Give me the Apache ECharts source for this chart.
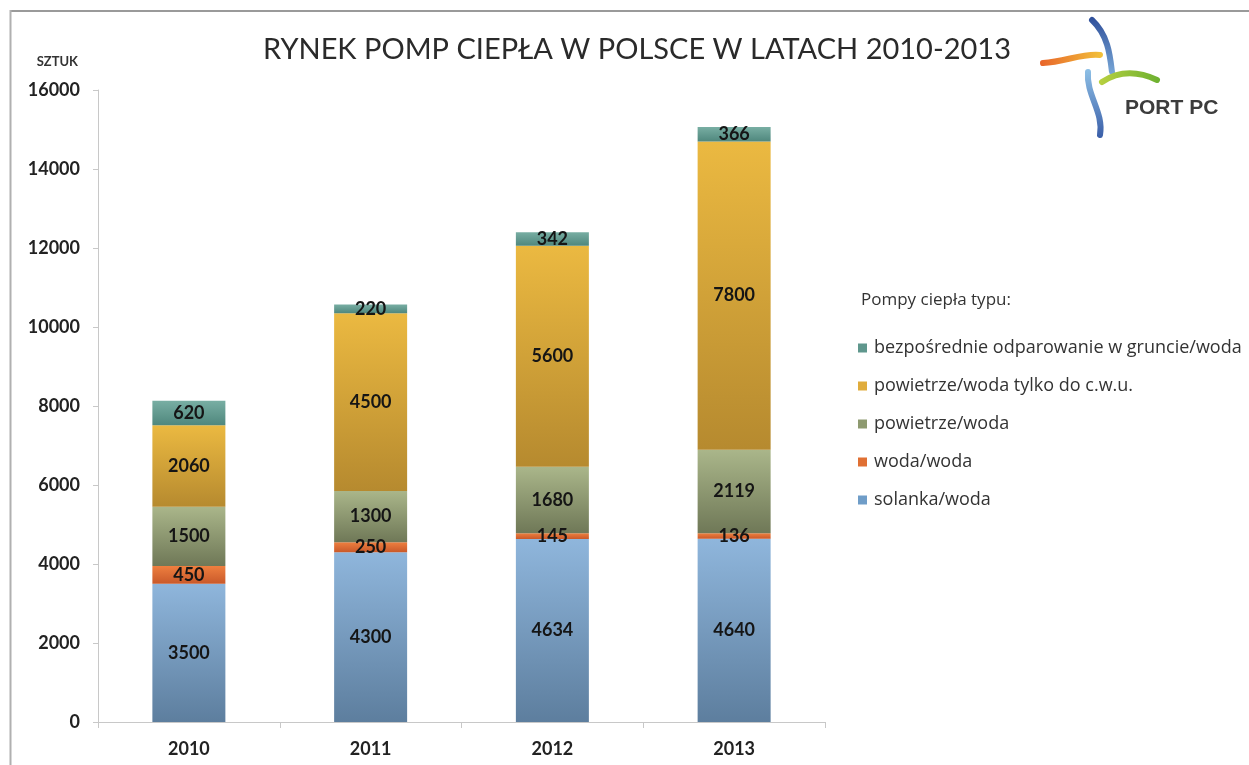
<!DOCTYPE html>
<html>
<head>
<meta charset="utf-8">
<script src="https://cdn.jsdelivr.net/npm/echarts@6/dist/echarts.min.js"></script>
<style>html,body{margin:0;padding:0;background:#fff}#c{width:1249px;height:765px}</style>
</head>
<body>
<div id="c"></div>
<script>
const years = ['2010', '2011', '2012', '2013'];
const solanka = [3500, 4300, 4634, 4640];
const wodaWoda = [450, 250, 145, 136];
const powietrze = [1500, 1300, 1680, 2119];
const powietrzeCwu = [2060, 4500, 5600, 7800];
const bezposrednie = [620, 220, 342, 366];
const yTicks = [0, 2000, 4000, 6000, 8000, 10000, 12000, 14000, 16000];

const names = ['solanka/woda', 'woda/woda', 'powietrze/woda', 'powietrze/woda tylko do c.w.u.', 'bezpośrednie odparowanie w gruncie/woda'];
const values = [solanka, wodaWoda, powietrze, powietrzeCwu, bezposrednie];
const colors = [
  ['#8fb6dc', '#5d7e9e'],
  ['#ee7f3f', '#c9592a'],
  ['#aab68a', '#6f7857'],
  ['#ebb941', '#b68a2f'],
  ['#78aea3', '#4f877d']
];
const legendColors = ['#6f9dc8', '#e07033', '#8e9a70', '#e0ac3c', '#5f978d'];

const FONT = 'Lato';
const chart = echarts.init(document.getElementById('c'), null, {renderer: 'canvas'});

const series = names.map((n, i) => ({
  name: n,
  type: 'bar',
  stack: 'total',
  barWidth: 73,
  data: values[i],
  itemStyle: {
    color: new echarts.graphic.LinearGradient(0, 0, 0, 1, [
      {offset: 0, color: colors[i][0]},
      {offset: 1, color: colors[i][1]}
    ])
  },
  label: {
    show: true,
    position: 'inside',
    color: '#151515',
    fontFamily: FONT,
    fontWeight: 'bold',
    fontSize: 18,
    formatter: p => String(p.value)
  },
  emphasis: {disabled: true}
}));

const option = {
  animation: false,
  backgroundColor: '#ffffff',
  title: {
    text: 'RYNEK POMP CIEPŁA W POLSCE W LATACH 2010-2013',
    left: 632,
    textAlign: 'center',
    top: 30,
    textStyle: {fontFamily: FONT, fontWeight: 'normal', fontSize: 29, color: '#2a2a2a'}
  },
  legend: {
    orient: 'vertical',
    left: 853,
    top: 334,
    itemWidth: 9,
    itemHeight: 9,
    itemGap: 20,
    icon: 'rect',
    data: names.slice().reverse().map((n) => ({name: n, itemStyle: {color: legendColors[names.indexOf(n)]}})),
    textStyle: {fontFamily: 'Open Sans', fontSize: 18, color: '#333', padding: [0, 0, 0, 2]}
  },
  grid: {left: 98, right: 424, top: 90, bottom: 43},
  xAxis: {
    type: 'category',
    data: years,
    axisLine: {lineStyle: {color: '#c8c8c8', width: 1}},
    axisTick: {show: true, length: 6, lineStyle: {color: '#c8c8c8'}},
    axisLabel: {margin: 18, fontFamily: FONT, fontWeight: 'bold', fontSize: 18, color: '#222'}
  },
  yAxis: {
    type: 'value',
    min: 0,
    max: 16000,
    interval: 2000,
    name: 'SZTUK',
    nameLocation: 'end',
    nameGap: 22,
    nameTextStyle: {fontFamily: FONT, fontWeight: 'bold', fontSize: 13, color: '#333', align: 'right', padding: [0, 20, 0, 0]},
    axisLine: {show: true, lineStyle: {color: '#c8c8c8', width: 1}},
    axisTick: {show: true, length: 5, lineStyle: {color: '#c8c8c8'}},
    splitLine: {show: false},
    axisLabel: {margin: 18, fontFamily: FONT, fontWeight: 'bold', fontSize: 18, color: '#222',
      formatter: v => yTicks.indexOf(v) >= 0 ? String(v) : ''}
  },
  series: series,
  graphic: [
    {type: 'line', shape: {x1: 10, y1: 11, x2: 1249, y2: 11}, style: {stroke: '#9a9a9a', lineWidth: 2}, silent: true},
    {type: 'line', shape: {x1: 10.5, y1: 10, x2: 10.5, y2: 765}, style: {stroke: '#b0b0b0', lineWidth: 2}, silent: true},
    {type: 'text', left: 861, top: 292, style: {text: 'Pompy ciepła typu:', fontFamily: 'Open Sans', fontSize: 17, fill: '#333'}},
    // logo
    {type: 'bezierCurve', shape: {x1: 1092, y1: 20, x2: 1112, y2: 72, cpx1: 1108, cpy1: 35, cpx2: 1110, cpy2: 55},
      style: {stroke: new echarts.graphic.LinearGradient(0, 0, 0, 1, [{offset: 0, color: '#2f4f9a'}, {offset: 1, color: '#7aa9d8'}]), lineWidth: 6, lineCap: 'round'}, silent: true},
    {type: 'bezierCurve', shape: {x1: 1088, y1: 72, x2: 1100, y2: 135, cpx1: 1086, cpy1: 95, cpx2: 1104, cpy2: 112},
      style: {stroke: new echarts.graphic.LinearGradient(0, 0, 0, 1, [{offset: 0, color: '#8ec0e6'}, {offset: 1, color: '#3a5ea8'}]), lineWidth: 6, lineCap: 'round'}, silent: true},
    {type: 'bezierCurve', shape: {x1: 1043, y1: 63, x2: 1100, y2: 55, cpx1: 1065, cpy1: 62, cpx2: 1082, cpy2: 53},
      style: {stroke: new echarts.graphic.LinearGradient(0, 0, 1, 0, [{offset: 0, color: '#e8642a'}, {offset: 1, color: '#f2c23a'}]), lineWidth: 6, lineCap: 'round'}, silent: true},
    {type: 'bezierCurve', shape: {x1: 1102, y1: 82, x2: 1157, y2: 80, cpx1: 1120, cpy1: 70, cpx2: 1140, cpy2: 72},
      style: {stroke: new echarts.graphic.LinearGradient(0, 0, 1, 0, [{offset: 0, color: '#b8d040'}, {offset: 1, color: '#6cb030'}]), lineWidth: 6, lineCap: 'round'}, silent: true},
    {type: 'text', left: 1125, top: 98, style: {text: 'PORT PC', fontFamily: 'Liberation Sans', fontWeight: 'bold', fontSize: 21, fill: '#3c3c3c'}, silent: true}
  ]
};
chart.setOption(option);
</script>
</body>
</html>
